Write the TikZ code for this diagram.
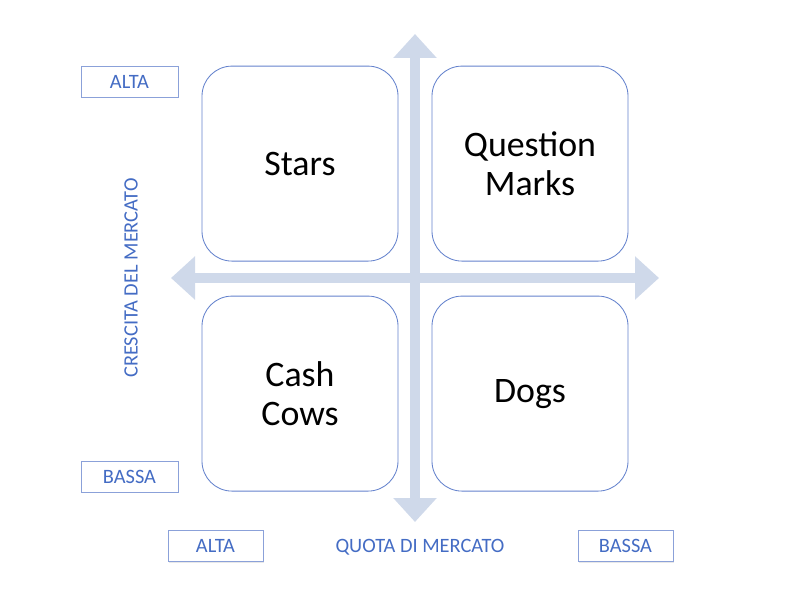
\documentclass[tikz,border=0pt]{standalone}
\usepackage{fontspec}
\setmainfont{Carlito}
\usetikzlibrary{arrows.meta, shadows}
\definecolor{axisBlue}{RGB}{207,217,234}
\definecolor{lineBlue}{RGB}{100,130,205}
\definecolor{textBlue}{RGB}{68,108,196}
\tikzset{
  quadBox/.style={draw=lineBlue, line width=0.6pt, rounded corners=0.75cm, fill=white,
    minimum width=4.9cm, minimum height=4.875cm, align=center, font=\fontsize{25.5}{28}\selectfont},
  levelBox/.style={draw=lineBlue!75, line width=0.6pt, fill=white, minimum height=0.775cm,
    text=textBlue, font=\fontsize{14.5}{17}\selectfont,
    drop shadow={shadow xshift=0.6pt, shadow yshift=-0.8pt, opacity=0.18}},
  axisLabel/.style={text=textBlue, font=\fontsize{14.5}{17}\selectfont},
  axisArrow/.style={color=axisBlue, line width=0.25cm,
    {Triangle[width=1.05cm, length=0.6cm]}-{Triangle[width=1.05cm, length=0.6cm]}}
}

\begin{document}
\begin{tikzpicture}
  \useasboundingbox (0,0) rectangle (20,15);
  \coordinate (V-top) at (10.375,14.15);
  \coordinate (V-bot) at (10.375,1.95);
  \coordinate (H-left) at (4.275,8.05);
  \coordinate (H-right) at (16.475,8.05);

  \draw[axisArrow] (V-bot) -- (V-top);
  \draw[axisArrow] (H-left) -- (H-right);

  \node[quadBox] (stars) at (7.5,10.91) {Stars};
  \node[quadBox] (question) at (13.25,10.91) {Question\\Marks};
  \node[quadBox] (cows) at (7.5,5.16) {Cash\\Cows};
  \node[quadBox] (dogs) at (13.25,5.16) {Dogs};

  \node[levelBox, minimum width=2.425cm] (growthHigh) at (3.2375,12.9625) {ALTA};
  \node[levelBox, minimum width=2.425cm] (growthLow) at (3.2375,3.0875) {BASSA};
  \node[levelBox, minimum width=2.375cm] (shareHigh) at (5.3875,1.35) {ALTA};
  \node[levelBox, minimum width=2.375cm] (shareLow) at (15.6375,1.35) {BASSA};

  \node[axisLabel] (shareAxis) at (10.5,1.325) {QUOTA DI MERCATO};
  \node[axisLabel, rotate=90] (growthAxis) at (3.275,8.05) {CRESCITA DEL MERCATO};
\end{tikzpicture}
\end{document}
